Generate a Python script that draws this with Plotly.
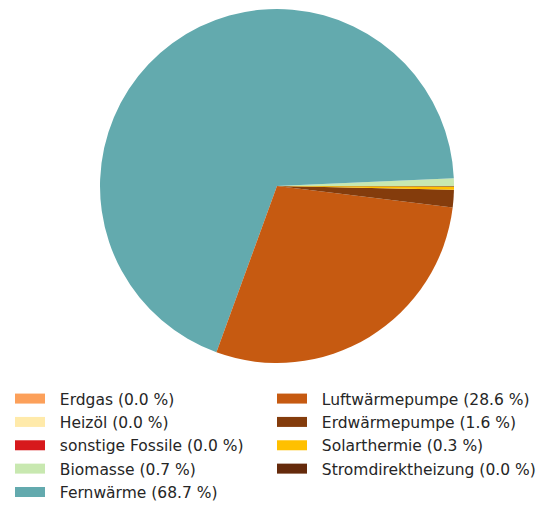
import plotly.graph_objects as go

labels = ["Erdgas", "Heizöl", "sonstige Fossile", "Biomasse", "Fernwärme",
          "Luftwärmepumpe", "Erdwärmepumpe", "Solarthermie", "Stromdirektheizung"]
values = [0.0, 0.0, 0.0, 0.7, 68.7, 28.6, 1.6, 0.3, 0.04]
legend_text = ["Erdgas (0.0 %)", "Heizöl (0.0 %)", "sonstige Fossile (0.0 %)",
               "Biomasse (0.7 %)", "Fernwärme (68.7 %)", "Luftwärmepumpe (28.6 %)",
               "Erdwärmepumpe (1.6 %)", "Solarthermie (0.3 %)", "Stromdirektheizung (0.0 %)"]
colors = ["#fca05a", "#ffeaaa", "#d7191c", "#c8e8b0", "#63aaae",
          "#c65a11", "#843c0c", "#ffc000", "#652a0b"]

W, H = 543, 505
fig = go.Figure()
fig.add_trace(go.Pie(
    labels=labels, values=values, sort=False, direction="counterclockwise",
    rotation=90, marker=dict(colors=colors, line=dict(width=0)),
    textinfo="none", hoverinfo="label+percent", showlegend=False,
    domain=dict(x=[100 / W, 454 / W], y=[1 - 363 / H, 1 - 9 / H]),
))

for i, (t, c) in enumerate(zip(legend_text, colors)):
    fig.add_trace(go.Scatter(
        x=[None], y=[None], mode="lines", name="\u00a0\u00a0" + t,
        line=dict(color=c, width=10), legendgroup=t,
        legend="legend" if i < 5 else "legend2",
    ))

legend_common = dict(
    font=dict(family="DejaVu Sans", size=15.5, color="#262626"),
    bgcolor="rgba(0,0,0,0)", traceorder="grouped", tracegroupgap=0.2,
    xanchor="left", yanchor="top", itemclick=False, itemdoubleclick=False,
)
fig.update_layout(
    width=W, height=H, margin=dict(l=0, r=0, t=0, b=0, autoexpand=False),
    paper_bgcolor="white", plot_bgcolor="white",
    xaxis=dict(visible=False), yaxis=dict(visible=False),
    legend=dict(x=10 / W, y=1 - 382 / H, **legend_common),
    legend2=dict(x=272 / W, y=1 - 382 / H, **legend_common),
    showlegend=True,
)
fig.write_html("out.html", config={"displayModeBar": False},
               post_script="document.body.style.margin='0';")
